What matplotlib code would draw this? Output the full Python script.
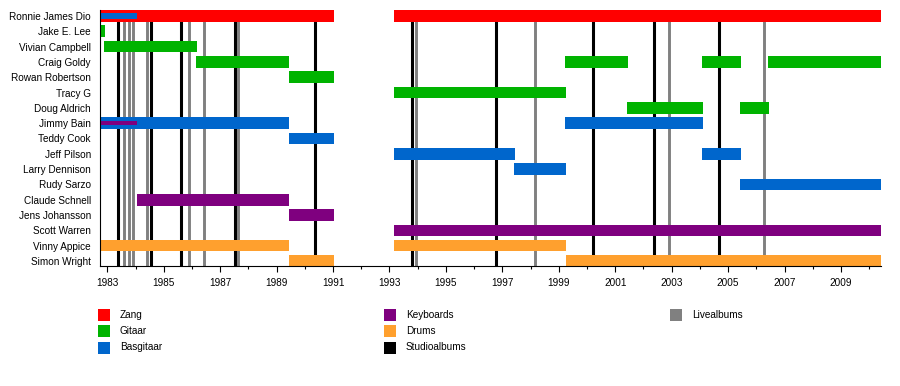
import matplotlib
matplotlib.use("Agg")
import matplotlib.pyplot as plt
from matplotlib.patches import Rectangle

plt.rcParams['font.family'] = ['Liberation Sans', 'DejaVu Sans']

members = ["Ronnie James Dio", "Jake E. Lee", "Vivian Campbell", "Craig Goldy",
           "Rowan Robertson", "Tracy G", "Doug Aldrich", "Jimmy Bain", "Teddy Cook",
           "Jeff Pilson", "Larry Dennison", "Rudy Sarzo", "Claude Schnell",
           "Jens Johansson", "Scott Warren", "Vinny Appice", "Simon Wright"]

# (member, start, end)
zang = [("Ronnie James Dio", 1982.74, 1991.04), ("Ronnie James Dio", 1993.16, 2010.42)]
gitaar = [("Jake E. Lee", 1982.74, 1982.9), ("Vivian Campbell", 1982.88, 1986.17),
          ("Craig Goldy", 1986.15, 1989.43), ("Craig Goldy", 1999.23, 2001.45),
          ("Craig Goldy", 2004.08, 2005.46), ("Craig Goldy", 2006.42, 2010.42),
          ("Rowan Robertson", 1989.43, 1991.04), ("Tracy G", 1993.16, 1999.26),
          ("Doug Aldrich", 2001.42, 2004.11), ("Doug Aldrich", 2005.43, 2006.45)]
basgitaar = [("Jimmy Bain", 1982.74, 1989.43), ("Jimmy Bain", 1999.23, 2004.11),
             ("Teddy Cook", 1989.43, 1991.04), ("Jeff Pilson", 1993.16, 1997.45),
             ("Jeff Pilson", 2004.08, 2005.46), ("Larry Dennison", 1997.42, 1999.26),
             ("Rudy Sarzo", 2005.43, 2010.42)]
keyboards = [("Claude Schnell", 1984.06, 1989.43), ("Jens Johansson", 1989.43, 1991.04),
             ("Scott Warren", 1993.16, 2010.42)]
drums = [("Vinny Appice", 1982.74, 1989.43), ("Vinny Appice", 1993.16, 1999.26),
         ("Simon Wright", 1989.43, 1991.04), ("Simon Wright", 1999.26, 2010.42)]
# secondary roles (thin bars)
extra_bas = [("Ronnie James Dio", 1982.74, 1984.06)]
extra_keys = [("Jimmy Bain", 1982.74, 1984.06)]

studio_albums = [1983.38, 1984.55, 1985.62, 1987.54, 1990.37, 1993.81,
                 1996.79, 2000.23, 2002.39, 2004.69]
live_albums = [1983.59, 1983.76, 1983.92, 1984.40, 1985.91, 1986.43, 1987.63,
               1993.94, 1998.14, 2002.89, 2006.29]

legend_labels = ["Zang", "Gitaar", "Basgitaar", "Keyboards", "Drums",
                 "Studioalbums", "Livealbums"]
year_ticks = list(range(1983, 2010, 2))

colors = {"Zang": "#ff0000", "Gitaar": "#00b300", "Basgitaar": "#0066cc",
          "Keyboards": "#7f007f", "Drums": "#ffa02e", "Studioalbums": "#000000",
          "Livealbums": "#808080"}

W, H = 900, 386
fig = plt.figure(figsize=(W / 100, H / 100), dpi=100)
ax = fig.add_axes([100 / W, 1 - 266 / H, (881 - 100) / W, (266 - 10) / H])

ypos = {m: i for i, m in enumerate(members)}
bar_h = 0.76

for x in live_albums:
    ax.axvline(x, color=colors["Livealbums"], lw=2.1, zorder=1)
for x in studio_albums:
    ax.axvline(x, color=colors["Studioalbums"], lw=2.2, zorder=1)

def draw(periods, color, h, z=2):
    for m, s, e in periods:
        ax.barh(ypos[m], e - s, left=s, height=h, color=color, lw=0, zorder=z)

draw(zang, colors["Zang"], bar_h)
draw(gitaar, colors["Gitaar"], bar_h)
draw(basgitaar, colors["Basgitaar"], bar_h)
draw(keyboards, colors["Keyboards"], bar_h)
draw(drums, colors["Drums"], bar_h)
draw(extra_bas, colors["Basgitaar"], 0.42, 3)
draw(extra_keys, colors["Keyboards"], 0.22, 3)

ax.set_xlim(1982.74, 2010.42)
ax.set_ylim(16.33, -0.39)
ax.set_yticks(range(len(members)))
ax.set_yticklabels(members, fontsize=7.2)
ax.tick_params(axis='y', length=0, pad=6.5)
ax.set_xticks(year_ticks)
ax.set_xticklabels([str(y) for y in year_ticks], fontsize=7.2)
ax.set_xticks(range(1983, 2011), minor=True)
ax.tick_params(axis='x', which='major', length=4, width=0.8, direction='out', pad=5)
ax.tick_params(axis='x', which='minor', length=2, width=0.8, direction='out')
for sp in ['top', 'right']:
    ax.spines[sp].set_visible(False)
for sp in ['left', 'bottom']:
    ax.spines[sp].set_linewidth(0.8)
    ax.spines[sp].set_zorder(4)

# legend in pixel coords
lax = fig.add_axes([0, 0, 1, 1], zorder=-1)
lax.set_xlim(0, W)
lax.set_ylim(H, 0)
lax.axis('off')
col_x = [98, 384, 670]
row_y = [314.5, 331, 347.5]
for i, lab in enumerate(legend_labels):
    cx = col_x[i // 3]
    cy = row_y[i % 3]
    lax.add_patch(Rectangle((cx, cy - 6), 12, 12, color=colors[lab], lw=0))
    lax.text(cx + 22, cy, lab, fontsize=7.2, va='center', ha='left')

fig.savefig("out.png", dpi=100)
